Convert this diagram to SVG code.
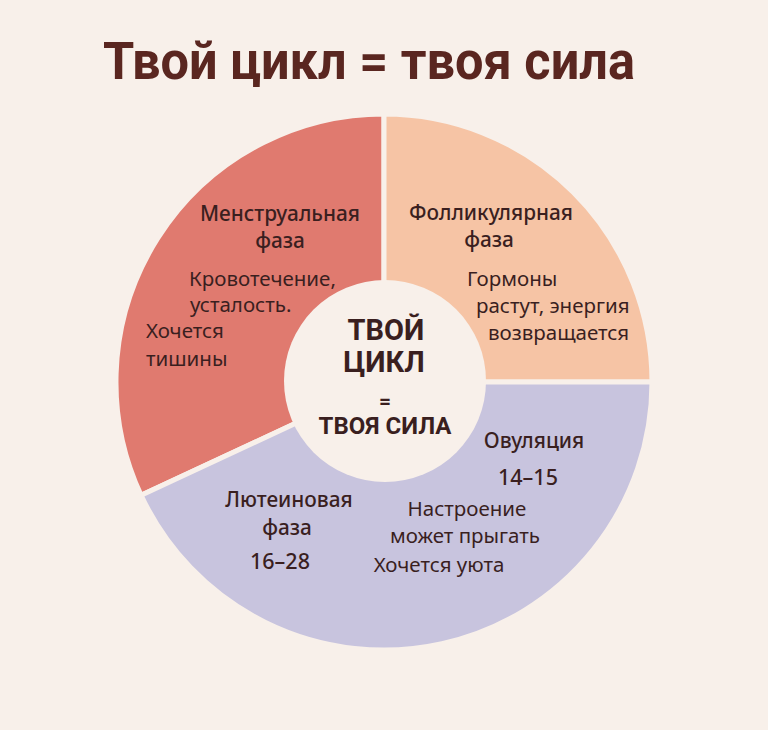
<svg xmlns="http://www.w3.org/2000/svg" width="768" height="730" viewBox="0 0 768 730">
<style>
.seg{stroke:#f8f0ea;stroke-width:5;stroke-linejoin:round}
.t{font-family:"Noto Sans","Open Sans","Liberation Sans",sans-serif;fill:#3a1f1f}
.h{font-weight:500;font-size:20.8px}
.n{font-weight:500;font-size:21.5px}
.b{font-weight:400;font-size:20.5px}
.c{font-family:Roboto,"Noto Sans","Liberation Sans",sans-serif;font-weight:700;fill:#3a1f1f}
</style>
<rect width="768" height="730" fill="#f8f0ea"/>
<text x="369" y="79" text-anchor="middle" font-family="Roboto,'Noto Sans','Liberation Sans',sans-serif" font-weight="700" font-size="51" fill="#5a2620" textLength="532" lengthAdjust="spacingAndGlyphs">Твой цикл = твоя сила</text>
<g id="menstrual">
<path class="seg" fill="#e07a6f" d="M384,382 L141.1,495.3 A268,268 0 0 1 384,114 Z"/>
<text class="t h" x="280" y="221" text-anchor="middle">Менструальная</text>
<text class="t h" x="280" y="248" text-anchor="middle">фаза</text>
<text class="t b" x="189" y="286">Кровотечение,</text>
<text class="t b" x="190" y="312">усталость.</text>
<text class="t b" x="146" y="338">Хочется</text>
<text class="t b" x="146" y="366">тишины</text>
</g>
<g id="follicular">
<path class="seg" fill="#f6c4a5" d="M384,382 L384,114 A268,268 0 0 1 652,382 Z"/>
<text class="t h" x="491" y="220" text-anchor="middle">Фолликулярная</text>
<text class="t h" x="489" y="247" text-anchor="middle">фаза</text>
<text class="t b" x="467" y="286">Гормоны</text>
<text class="t b" x="476" y="313">растут, энергия</text>
<text class="t b" x="488" y="340">возвращается</text>
</g>
<g id="luteal">
<path class="seg" fill="#c8c4de" d="M384,382 L652,382 A268,268 0 0 1 141.1,495.3 Z"/>
<text class="t h" x="289" y="507" text-anchor="middle">Лютеиновая</text>
<text class="t h" x="287" y="535" text-anchor="middle">фаза</text>
<text class="t n" x="280" y="569" text-anchor="middle">16–28</text>
</g>
<g id="ovulation">
<text class="t h" x="534" y="448" text-anchor="middle">Овуляция</text>
<text class="t n" x="528" y="485" text-anchor="middle">14–15</text>
<text class="t b" x="467" y="516" text-anchor="middle">Настроение</text>
<text class="t b" x="465" y="543" text-anchor="middle">может прыгать</text>
<text class="t b" x="439" y="572" text-anchor="middle">Хочется уюта</text>
</g>
<g id="center">
<circle cx="385" cy="381" r="101" fill="#f8f0ea"/>
<text class="c" x="386" y="340" text-anchor="middle" font-size="29">ТВОЙ</text>
<text class="c" x="384" y="372" text-anchor="middle" font-size="29">ЦИКЛ</text>
<text class="c" x="385" y="408" text-anchor="middle" font-size="21">=</text>
<text class="c" x="385" y="434" text-anchor="middle" font-size="24">ТВОЯ СИЛА</text>
</g>
<g id="connectors"/>
</svg>
